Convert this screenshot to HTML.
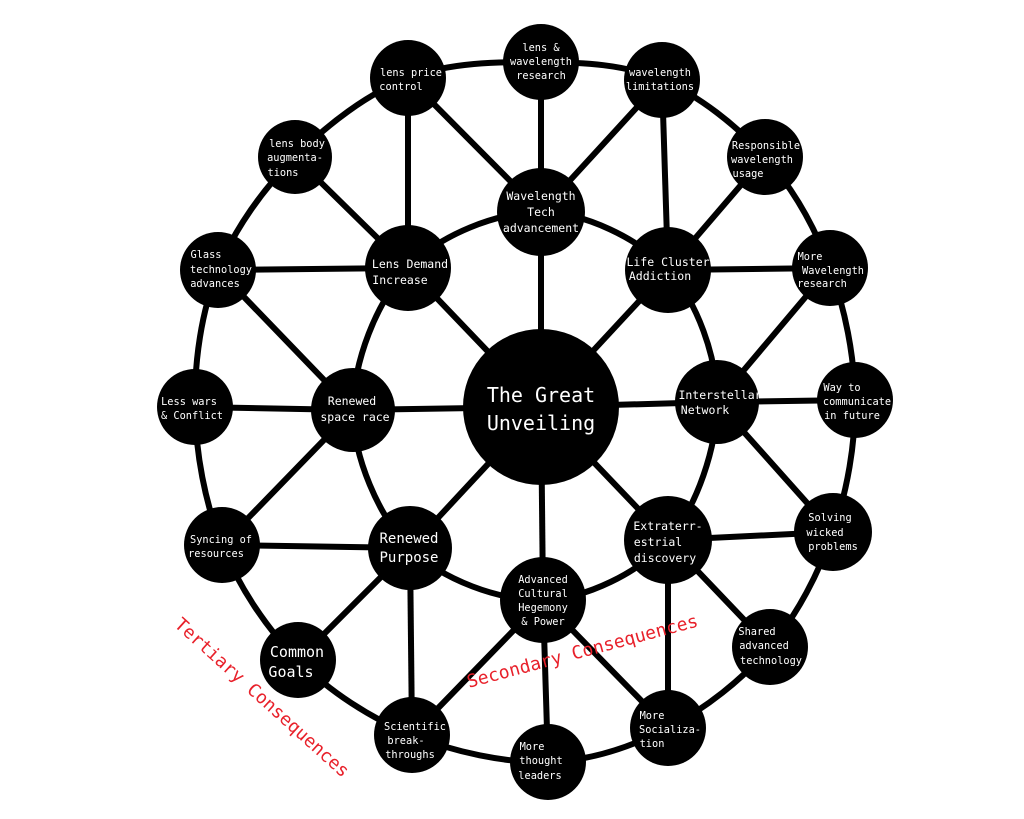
<!DOCTYPE html>
<html><head><meta charset="utf-8"><style>
html,body{margin:0;padding:0;background:#fff;}
svg{display:block;}
text{font-family:"DejaVu Sans Mono","Liberation Mono",monospace;fill:#fff;text-anchor:middle;}
text.red{fill:#e8202a;font-size:18px;}
</style></head><body>
<svg width="1024" height="819" viewBox="0 0 1024 819" xmlns="http://www.w3.org/2000/svg">
<g stroke="#000" stroke-width="6" fill="none">
<path d="M541,62 C583.3,62.3 624.7,64.2 662,80 C699.3,95.8 737,125.7 765,157 C793,188.3 815,227.5 830,268 C845,308.5 854.5,356 855,400 C855.5,444 847.2,490.8 833,532 C818.8,573.2 797.5,614.3 770,647 C742.5,679.7 705,708.8 668,728 C631,747.2 590.7,760.8 548,762 C505.3,763.2 453.7,752 412,735 C370.3,718 329.7,691.7 298,660 C266.3,628.3 239.2,587.2 222,545 C204.8,502.8 195.7,452.8 195,407 C194.3,361.2 201.3,311.7 218,270 C234.7,228.3 263.3,189 295,157 C326.7,125 367,93.8 408,78 C449,62.2 498.7,61.7 541,62 Z"/>
<path d="M541,212 C584.3,212.3 638.7,238.3 668,270 C697.3,301.7 717,357 717,402 C717,447 697,507 668,540 C639,573 586,598.7 543,600 C500,601.3 441.7,579.7 410,548 C378.3,516.3 353.3,456.7 353,410 C352.7,363.3 376.7,301 408,268 C439.3,235 497.7,211.7 541,212 Z"/>
<line x1="541" y1="407" x2="541" y2="212"/>
<line x1="541" y1="407" x2="408" y2="268"/>
<line x1="541" y1="407" x2="668" y2="270"/>
<line x1="541" y1="407" x2="353" y2="410"/>
<line x1="541" y1="407" x2="717" y2="402"/>
<line x1="541" y1="407" x2="410" y2="548"/>
<line x1="541" y1="407" x2="668" y2="540"/>
<line x1="541" y1="407" x2="543" y2="600"/>
<line x1="408" y1="268" x2="408" y2="78"/>
<line x1="408" y1="268" x2="295" y2="157"/>
<line x1="408" y1="268" x2="218" y2="270"/>
<line x1="541" y1="212" x2="408" y2="78"/>
<line x1="541" y1="212" x2="541" y2="62"/>
<line x1="541" y1="212" x2="662" y2="80"/>
<line x1="668" y1="270" x2="662" y2="80"/>
<line x1="668" y1="270" x2="765" y2="157"/>
<line x1="668" y1="270" x2="830" y2="268"/>
<line x1="717" y1="402" x2="830" y2="268"/>
<line x1="717" y1="402" x2="855" y2="400"/>
<line x1="717" y1="402" x2="833" y2="532"/>
<line x1="668" y1="540" x2="833" y2="532"/>
<line x1="668" y1="540" x2="770" y2="647"/>
<line x1="668" y1="540" x2="668" y2="728"/>
<line x1="543" y1="600" x2="668" y2="728"/>
<line x1="543" y1="600" x2="548" y2="762"/>
<line x1="543" y1="600" x2="412" y2="735"/>
<line x1="410" y1="548" x2="412" y2="735"/>
<line x1="410" y1="548" x2="298" y2="660"/>
<line x1="410" y1="548" x2="222" y2="545"/>
<line x1="353" y1="410" x2="222" y2="545"/>
<line x1="353" y1="410" x2="195" y2="407"/>
<line x1="353" y1="410" x2="218" y2="270"/>
</g>
<g fill="#000">
<circle cx="541" cy="407" r="78"/>
<circle cx="541" cy="212" r="44"/>
<circle cx="408" cy="268" r="43"/>
<circle cx="668" cy="270" r="43"/>
<circle cx="353" cy="410" r="42"/>
<circle cx="717" cy="402" r="42"/>
<circle cx="410" cy="548" r="42"/>
<circle cx="668" cy="540" r="44"/>
<circle cx="543" cy="600" r="43"/>
<circle cx="541" cy="62" r="38"/>
<circle cx="408" cy="78" r="38"/>
<circle cx="662" cy="80" r="38"/>
<circle cx="295" cy="157" r="37"/>
<circle cx="765" cy="157" r="38"/>
<circle cx="218" cy="270" r="38"/>
<circle cx="830" cy="268" r="38"/>
<circle cx="195" cy="407" r="38"/>
<circle cx="855" cy="400" r="38"/>
<circle cx="222" cy="545" r="38"/>
<circle cx="833" cy="532" r="39"/>
<circle cx="298" cy="660" r="38"/>
<circle cx="770" cy="647" r="38"/>
<circle cx="412" cy="735" r="38"/>
<circle cx="668" cy="728" r="38"/>
<circle cx="548" cy="762" r="38"/>
</g>
<g font-size="20"><text x="541" y="402">The Great</text><text x="541" y="430">Unveiling</text></g>
<g font-size="11.5">
<text x="541" y="200">Wavelength</text><text x="541" y="216">Tech</text><text x="541" y="232">advancement</text>
<text x="410" y="268">Lens Demand</text><text x="400" y="284">Increase</text>
<text x="668" y="266">Life Cluster</text><text x="660" y="280">Addiction</text>
<text x="352" y="405">Renewed</text><text x="355" y="421">space race</text>
<text x="720" y="399">Interstellar</text><text x="705" y="414">Network</text>
<text x="409" y="543" font-size="14">Renewed</text><text x="409" y="562" font-size="14">Purpose</text>
<text x="668" y="530">Extraterr-</text><text x="658" y="546">estrial</text><text x="665" y="562">discovery</text>
</g>
<g font-size="10.3">
<text x="543" y="583">Advanced</text><text x="543" y="597">Cultural</text><text x="543" y="611">Hegemony</text><text x="543" y="625">&amp; Power</text>
<text x="541" y="51">lens &amp;</text><text x="541" y="65">wavelength</text><text x="541" y="79">research</text>
<text x="411" y="76">lens price</text><text x="401" y="90">control</text>
<text x="660" y="76">wavelength</text><text x="660" y="90">limitations</text>
<text x="297" y="147">lens body</text><text x="295" y="161">augmenta-</text><text x="283" y="176">tions</text>
<text x="766" y="149">Responsible</text><text x="762" y="163">wavelength</text><text x="748" y="177">usage</text>
<text x="206" y="258">Glass</text><text x="221" y="273">technology</text><text x="215" y="287">advances</text>
<text x="810" y="260">More</text><text x="833" y="274">Wavelength</text><text x="822" y="287">research</text>
<text x="189" y="405">Less wars</text><text x="192" y="419">&amp; Conflict</text>
<text x="842" y="391">Way to</text><text x="857" y="405">communicate</text><text x="852" y="419">in future</text>
<text x="221" y="543">Syncing of</text><text x="216" y="557">resources</text>
<text x="830" y="521">Solving</text><text x="825" y="536">wicked</text><text x="833" y="550">problems</text>
<text x="757" y="635">Shared</text><text x="764" y="649">advanced</text><text x="771" y="664">technology</text>
<text x="415" y="730">Scientific</text><text x="406" y="744">break-</text><text x="410" y="758">throughs</text>
<text x="652" y="719">More</text><text x="670" y="733">Socializa-</text><text x="652" y="747">tion</text>
<text x="532" y="750">More</text><text x="541" y="764">thought</text><text x="540" y="779">leaders</text>
</g>
<g font-size="15"><text x="297" y="657">Common</text><text x="291" y="677">Goals</text></g>
<text class="red" transform="translate(258,702) rotate(42)">Tertiary Consequences</text>
<text class="red" transform="translate(584,657) rotate(-15)">Secondary Consequences</text>
</svg>
</body></html>
